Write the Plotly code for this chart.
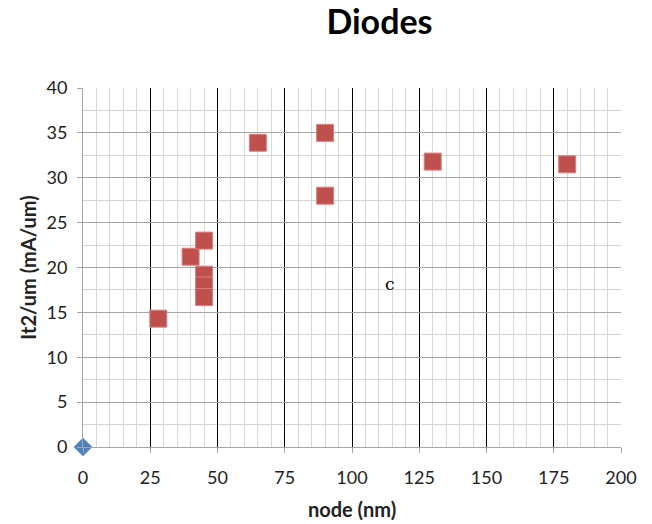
import plotly.graph_objects as go

# Diode It2 per unit width versus technology node
node_nm = [28, 40, 45, 45, 45, 45, 65, 90, 90, 130, 180]
it2_ma_per_um = [14.3, 21.2, 23.0, 19.2, 18.0, 16.7, 33.9, 35.0, 28.0, 31.8, 31.5]

ref_node = [0]
ref_it2 = [0]

FONT = "Lato"

fig = go.Figure()
fig.add_trace(go.Scatter(
    x=ref_node, y=ref_it2, mode="markers",
    marker=dict(symbol="diamond", size=14, color="#4F81BD",
                line=dict(width=0.5, color="#4F81BD")),
    showlegend=False, cliponaxis=False,
))
fig.add_trace(go.Scatter(
    x=node_nm, y=it2_ma_per_um, mode="markers",
    marker=dict(symbol="square", size=17, color="#C0504D",
                line=dict(width=1, color="#D9817E")),
    showlegend=False, cliponaxis=False,
))

fig.add_annotation(x=114, y=18.2, text="c", showarrow=False,
                   font=dict(family="DejaVu Serif", size=17, color="black"))

fig.update_layout(
    width=652, height=524,
    margin=dict(l=83, r=31, t=88, b=77),
    paper_bgcolor="white", plot_bgcolor="white",
    font=dict(family=FONT, color="#222222"),
    title=dict(text="<b>Diodes</b>", x=0.582, xref="container", xanchor="center",
               y=0.958, yanchor="middle",
               font=dict(family=FONT, size=34, color="black")),
)

fig.update_xaxes(
    range=[0, 200], dtick=25, tick0=0,
    automargin=False,
    showgrid=True, gridcolor="black", gridwidth=1,
    minor=dict(dtick=5, showgrid=True, gridcolor="#D9D9D9", gridwidth=1,
               ticks=""),
    showline=True, linecolor="#A6A6A6", linewidth=1,
    ticks="outside", ticklen=5, tickcolor="#A6A6A6",
    ticklabelstandoff=9,
    zeroline=False,
    tickfont=dict(family=FONT, size=18, color="#222222"),
    title=dict(text="<b>node (nm)</b>", standoff=16,
               font=dict(family=FONT, size=20, color="#222222")),
)
fig.update_yaxes(
    range=[0, 40], dtick=5, tick0=0,
    automargin=False,
    showgrid=True, gridcolor="#A6A6A6", gridwidth=1,
    minor=dict(dtick=2.5, showgrid=True, gridcolor="#D4D4D4", gridwidth=1,
               ticks=""),
    showline=True, linecolor="#A6A6A6", linewidth=1,
    ticks="outside", ticklen=5, tickcolor="#A6A6A6",
    ticklabelstandoff=6,
    zeroline=False,
    tickfont=dict(family=FONT, size=18, color="#222222"),
    title=dict(text="<b>It2/um (mA/um)</b>", standoff=4,
               font=dict(family=FONT, size=20, color="#222222")),
)

fig.write_html("out.html")
